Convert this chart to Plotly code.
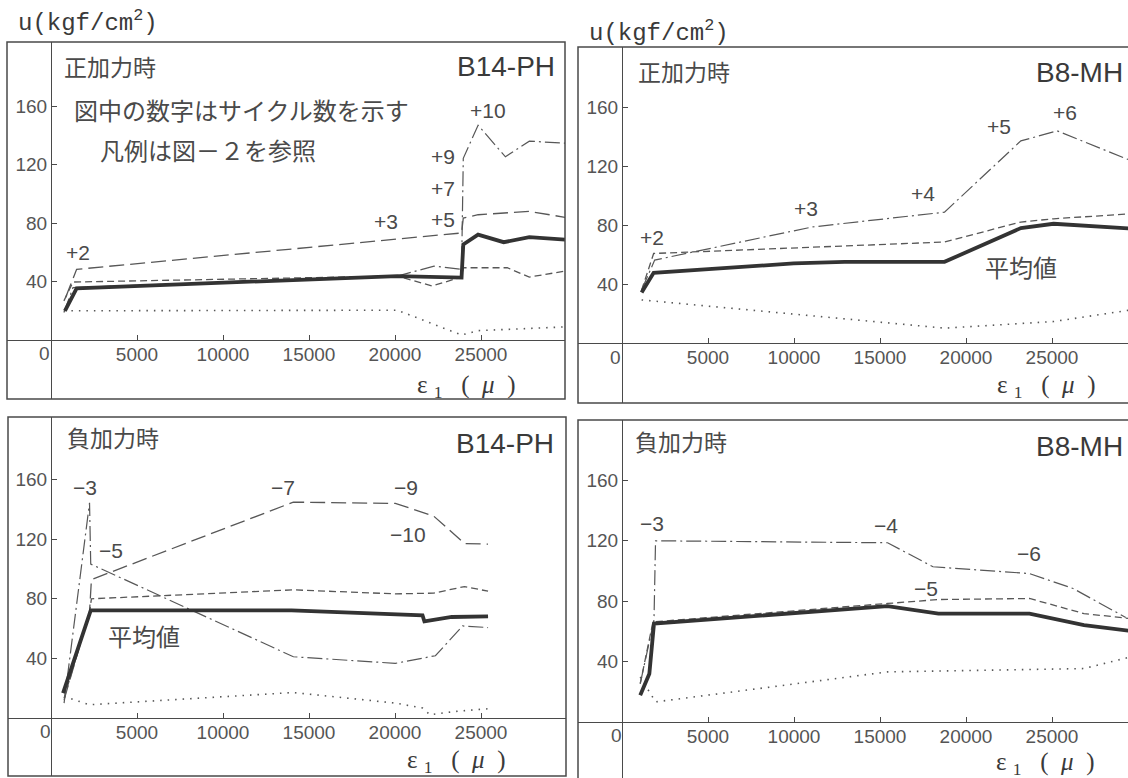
import plotly.graph_objects as go

W, H = 1128, 778

# ---------------- data ----------------
# Panel 1 : 正加力時  B14-PH
p1_avg_x = [810, 1490, 20140, 23870, 23970, 24830, 26320, 27810, 30150]
p1_avg_y = [20.0, 35.4, 43.8, 42.7, 65.4, 72.2, 67.0, 70.4, 68.5]
p1_dsh_x = [750, 1280, 20140, 22160, 23870, 23970, 26530, 27810, 30150]
p1_dsh_y = [26.8, 39.7, 43.8, 37.0, 43.1, 49.5, 49.5, 43.1, 47.7]
p1_dd_x = [750, 1280, 20140, 22270, 23870, 23970, 24830, 26420, 27810, 30150]
p1_dd_y = [18.8, 35.9, 43.8, 50.6, 48.4, 124.4, 147.1, 125.5, 136.2, 134.6]
p1_ld_x = [850, 1490, 23870, 23970, 24830, 27810, 30150]
p1_ld_y = [29.1, 48.4, 73.3, 83.5, 85.8, 88.1, 83.5]
p1_dot_x = [750, 20140, 23870, 24830, 30150]
p1_dot_y = [20.0, 20.4, 3.4, 6.4, 9.1]
p1_lab = ["+2", "+3", "+5", "+7", "+9", "+10"]
p1_lab_x = [1560, 19500, 22800, 22800, 22800, 25400]
p1_lab_y = [59.7, 81.3, 82.4, 104.0, 125.5, 157.3]

# Panel 2 : 正加力時  B8-MH
p2_avg_x = [1140, 1840, 9980, 12940, 18750, 23190, 25090, 29600]
p2_avg_y = [34.3, 47.8, 54.1, 55.2, 55.2, 78.2, 81.1, 77.8]
p2_dsh_x = [1140, 1840, 18750, 23190, 25090, 29600]
p2_dsh_y = [36.0, 60.9, 68.7, 82.3, 84.5, 87.9]
p2_dd_x = [1140, 1900, 11040, 18750, 23190, 25300, 29600]
p2_dd_y = [36.0, 56.4, 78.9, 89.0, 137.5, 144.3, 124.0]
p2_dot_x = [1140, 18750, 25090, 29600]
p2_dot_y = [29.3, 10.1, 14.6, 22.5]
p2_lab = ["+2", "+3", "+4", "+5", "+6"]
p2_lab_x = [1730, 10720, 17480, 21920, 25730]
p2_lab_y = [72.0, 91.3, 101.4, 147.0, 156.7]

# Panel 3 : 負加力時  B14-PH
p3_avg_x = [700, 2310, 13990, 21600, 21710, 23300, 25410]
p3_avg_y = [16.7, 72.2, 72.2, 68.9, 64.9, 67.8, 68.2]
p3_dd_x = [760, 2240, 2310, 14090, 20020, 22350, 23930, 25410]
p3_dd_y = [10.0, 144.4, 103.3, 41.1, 36.7, 41.8, 61.8, 60.7]
p3_ld_x = [760, 2240, 2350, 14090, 20020, 22240, 24040, 25410]
p3_ld_y = [12.2, 71.1, 92.9, 144.9, 144.0, 135.6, 117.1, 116.7]
p3_dsh_x = [760, 2240, 2350, 14090, 20020, 22240, 24040, 25410]
p3_dsh_y = [13.3, 71.1, 80.0, 86.0, 83.3, 83.8, 88.2, 85.1]
p3_dot_x = [760, 2240, 14090, 20020, 21600, 22030, 23510, 25410]
p3_dot_y = [14.4, 8.9, 17.1, 10.0, 6.7, 2.2, 4.4, 6.2]
p3_lab = ["−3", "−5", "−7", "−9", "−10"]
p3_lab_x = [1970, 3510, 13460, 20650, 20760]
p3_lab_y = [154.4, 112.7, 154.4, 154.4, 123.3]

# Panel 4 : 負加力時  B8-MH
p4_avg_x = [1060, 1590, 1860, 15440, 18400, 23690, 26860, 29570]
p4_avg_y = [17.7, 32.0, 65.2, 76.7, 71.8, 71.8, 64.1, 60.3]
p4_dsh_x = [1060, 1800, 15440, 18400, 23690, 26860, 29570]
p4_dsh_y = [25.4, 66.3, 78.5, 81.1, 81.8, 71.8, 68.5]
p4_dd_x = [1060, 1860, 1950, 15440, 18080, 23690, 26230, 29290]
p4_dd_y = [25.4, 67.4, 120.0, 118.7, 102.8, 98.3, 88.4, 69.2]
p4_dot_x = [1060, 1950, 15440, 26860, 29570]
p4_dot_y = [29.8, 13.3, 33.2, 35.4, 43.1]
p4_lab = ["−3", "−4", "−5", "−6"]
p4_lab_x = [1730, 15330, 17660, 23690]
p4_lab_y = [131.5, 130.4, 88.4, 111.6]

x_ticks = [5000, 10000, 15000, 20000, 25000]
y_ticks = [40, 80, 120, 160]
avg_label = "平均値"

# ---------------- layout geometry (pixels) ----------------
panels = [
    dict(L=7, R=565, T=42, B=399, ox=51, oy=340, sx=86 / 5000, sy=1.46),
    dict(L=578, R=1140, T=47, B=403, ox=622, oy=343, sx=86 / 5000, sy=1.47),
    dict(L=8, R=566, T=417, B=776, ox=51, oy=718, sx=86 / 5000, sy=1.49),
    dict(L=578, R=1140, T=420, B=780, ox=622, oy=722, sx=86 / 5000, sy=1.51),
]

INK = "#4a4a4a"
THIN = "#575757"
TICKFONT = dict(family="Liberation Sans, Arial, sans-serif", size=19, color="#555")
JP = "Noto Sans CJK JP, sans-serif"

fig = go.Figure()
layout = dict(width=W, height=H, margin=dict(l=0, r=0, t=0, b=0), autosize=False,
              plot_bgcolor="white", paper_bgcolor="white", showlegend=False)
shapes, annots = [], []

def px(x):
    return x / W

def py(y):
    return 1 - y / H

for i, p in enumerate(panels, start=1):
    Rv = min(p["R"], W)
    Bv = min(p["B"], H)
    xmin = -(p["ox"] - p["L"]) / p["sx"]
    xmax = (Rv - p["ox"]) / p["sx"]
    ymin = -(Bv - p["oy"]) / p["sy"]
    ymax = (p["oy"] - p["T"]) / p["sy"]
    sfx = "" if i == 1 else str(i)
    layout["xaxis" + sfx] = dict(
        domain=[px(p["L"]), px(Rv)], range=[xmin, xmax], anchor="free",
        position=py(p["oy"]), showline=True, linecolor=INK, linewidth=1.2,
        ticks="inside", ticklen=5, tickcolor=INK, tickvals=x_ticks,
        ticktext=[str(v) for v in x_ticks], showgrid=False, zeroline=False,
        tickfont=TICKFONT, ticklabelstandoff=-3, fixedrange=True)
    layout["yaxis" + sfx] = dict(
        domain=[py(Bv), py(p["T"])], range=[ymin, ymax], anchor="free",
        position=px(p["ox"]), showline=True, linecolor=INK, linewidth=1.2,
        ticks="inside", ticklen=5, tickcolor=INK, tickvals=y_ticks,
        showgrid=False, zeroline=False, tickfont=TICKFONT, fixedrange=True)
    shapes.append(dict(type="rect", xref="paper", yref="paper",
                       x0=px(p["L"]), x1=px(p["R"]), y0=py(p["B"]), y1=py(p["T"]),
                       line=dict(color=INK, width=1.5)))

def add(xs, ys, n, style):
    xa = "x" if n == 1 else "x%d" % n
    ya = "y" if n == 1 else "y%d" % n
    if style == "avg":
        line = dict(color="#333", width=3.8)
    elif style == "dash":
        line = dict(color=THIN, width=1.3, dash="7px,4px")
    elif style == "long":
        line = dict(color=THIN, width=1.3, dash="15px,6px")
    elif style == "dd":
        line = dict(color=THIN, width=1.2, dash="15px,4px,2px,4px")
    else:
        line = dict(color=THIN, width=1.6, dash="1.5px,6px")
    fig.add_trace(go.Scatter(x=xs, y=ys, mode="lines", line=line, xaxis=xa, yaxis=ya,
                             hoverinfo="skip"))

add(p1_dot_x, p1_dot_y, 1, "dot"); add(p1_dsh_x, p1_dsh_y, 1, "dash")
add(p1_dd_x, p1_dd_y, 1, "dd"); add(p1_ld_x, p1_ld_y, 1, "long")
add(p1_avg_x, p1_avg_y, 1, "avg")
add(p2_dot_x, p2_dot_y, 2, "dot"); add(p2_dsh_x, p2_dsh_y, 2, "dash")
add(p2_dd_x, p2_dd_y, 2, "dd"); add(p2_avg_x, p2_avg_y, 2, "avg")
add(p3_dot_x, p3_dot_y, 3, "dot"); add(p3_dsh_x, p3_dsh_y, 3, "dash")
add(p3_dd_x, p3_dd_y, 3, "dd"); add(p3_ld_x, p3_ld_y, 3, "long")
add(p3_avg_x, p3_avg_y, 3, "avg")
add(p4_dot_x, p4_dot_y, 4, "dot"); add(p4_dsh_x, p4_dsh_y, 4, "dash")
add(p4_dd_x, p4_dd_y, 4, "dd"); add(p4_avg_x, p4_avg_y, 4, "avg")

LABFONT = dict(family="Liberation Sans, Arial, sans-serif", size=21, color="#4a4a4a")
for n, (labs, lx, ly) in enumerate([(p1_lab, p1_lab_x, p1_lab_y), (p2_lab, p2_lab_x, p2_lab_y),
                                    (p3_lab, p3_lab_x, p3_lab_y), (p4_lab, p4_lab_x, p4_lab_y)], start=1):
    xr = "x" if n == 1 else "x%d" % n
    yr = "y" if n == 1 else "y%d" % n
    for t, x, y in zip(labs, lx, ly):
        annots.append(dict(text=t, x=x, y=y, xref=xr, yref=yr, showarrow=False,
                           font=LABFONT, xanchor="center", yanchor="middle"))

annots.append(dict(text=avg_label, x=23190, y=51.8, xref="x2", yref="y2", showarrow=False,
                   font=dict(family=JP, size=24, color="#4a4a4a")))
annots.append(dict(text=avg_label, x=5420, y=55.6, xref="x3", yref="y3", showarrow=False,
                   font=dict(family=JP, size=24, color="#4a4a4a")))

def ptext(t, x, y, xa="left", font=None):
    annots.append(dict(text=t, x=px(x), y=py(y), xref="paper", yref="paper", showarrow=False,
                       xanchor=xa, yanchor="middle", font=font))

UFONT = dict(family="Liberation Mono, DejaVu Sans Mono, monospace", size=24, color="#3a3a3a")
TFONT = dict(family="Liberation Sans, Arial, sans-serif", size=28, color="#3a3a3a")
JFONT = dict(family=JP, size=23, color="#4a4a4a")
EFONT = dict(family="Liberation Serif, serif", size=25, color="#3a3a3a")
ZFONT = dict(family="Liberation Sans, Arial, sans-serif", size=19, color="#555")
eps = "ε\u00a0<sub>1</sub>\u00a0\u00a0\u00a0(\u00a0\u00a0<i>μ</i>\u00a0\u00a0)"

ptext("u(kgf/cm<sup>2</sup>)", 16, 22, font=UFONT)
ptext("u(kgf/cm<sup>2</sup>)", 587, 31, font=UFONT)
ptext("正加力時", 62, 66, font=JFONT)
ptext("正加力時", 636, 71, font=JFONT)
ptext("負加力時", 65, 437, font=JFONT)
ptext("負加力時", 633, 441, font=JFONT)
ptext("B14-PH", 557, 66, "right", TFONT)
ptext("B8-MH", 1125, 73, "right", TFONT)
ptext("B14-PH", 556, 443, "right", TFONT)
ptext("B8-MH", 1125, 447, "right", TFONT)
ptext("図中の数字はサイクル数を示す", 72, 110, font=dict(family=JP, size=24, color="#4a4a4a"))
ptext("凡例は図－２を参照", 98, 149, font=dict(family=JP, size=24, color="#4a4a4a"))
for (x0, y0) in [(44, 354), (615, 357), (45, 731), (616, 735)]:
    ptext("0", x0, y0, "center", ZFONT)
ptext(eps, 415, 386, font=EFONT)
ptext(eps, 995, 386, font=EFONT)
ptext(eps, 405, 761, font=EFONT)
ptext(eps, 994, 763, font=EFONT)

layout["shapes"] = shapes
layout["annotations"] = annots
fig.update_layout(**layout)
fig.write_html("out.html")
